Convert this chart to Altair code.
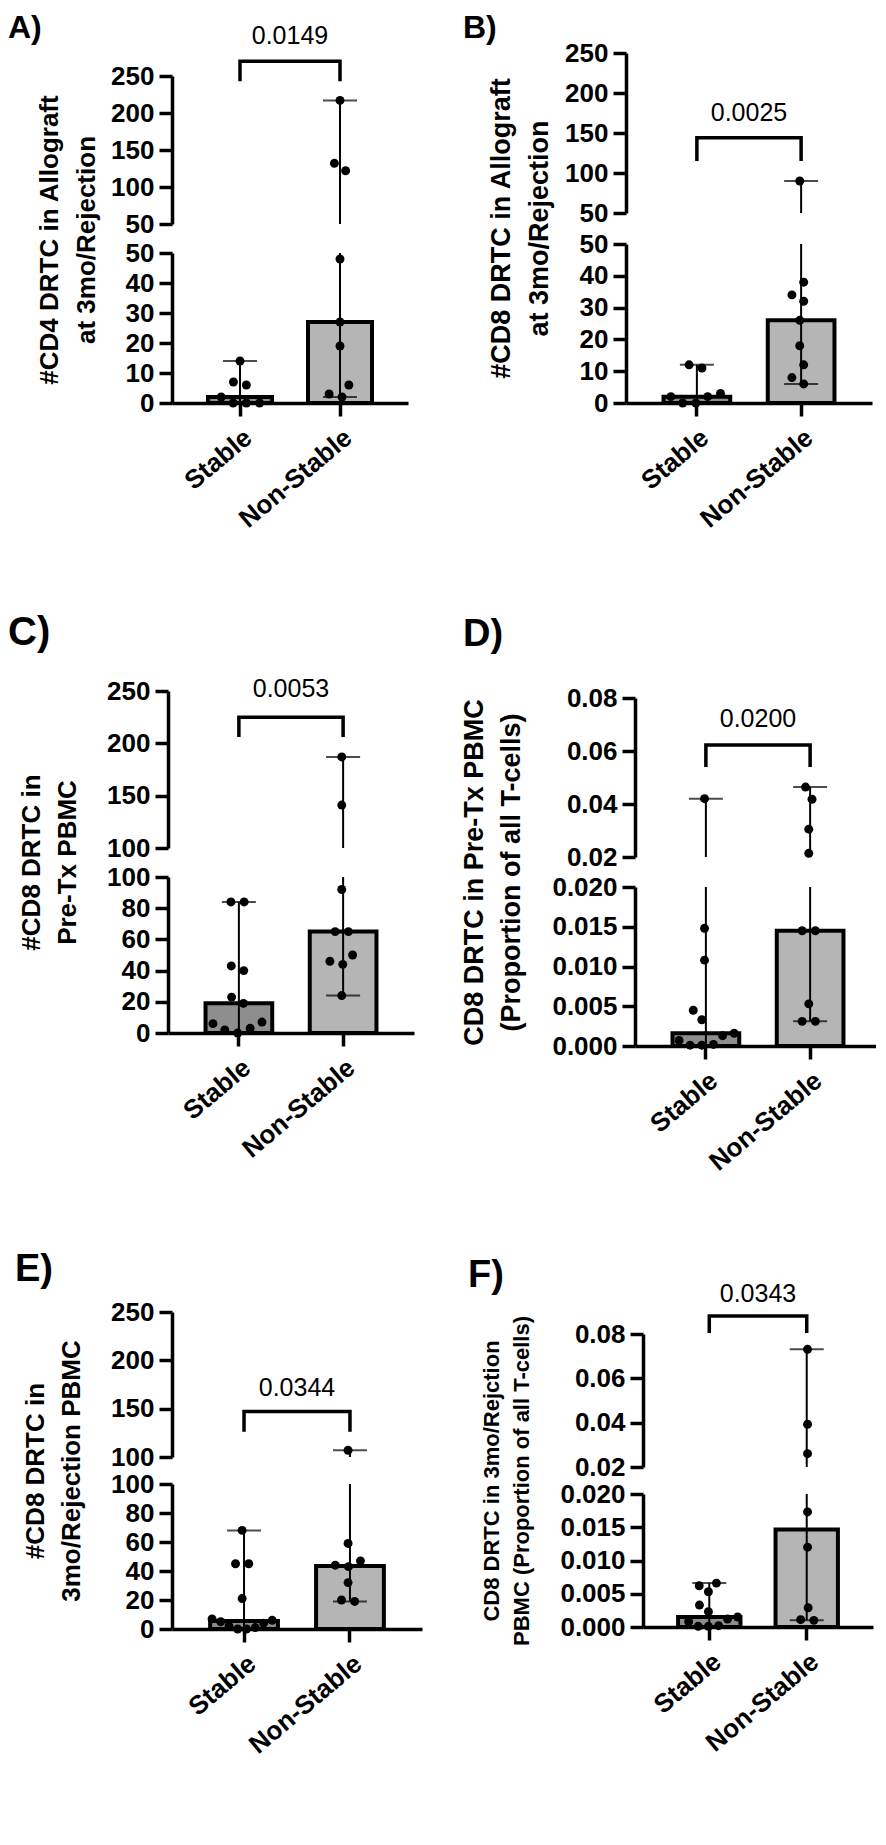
import altair as alt
import pandas as pd

FONT = "Liberation Sans"
groups = ["Stable", "Non-Stable"]

# ---- data ----
a_stable = [14, 7, 6, 2, 0, 0, 0]
a_nonstable = [217, 132, 122, 48, 27, 19, 6, 3, 2]
b_stable = [12, 11, 3, 2, 2, 0, 0]
b_nonstable = [90, 38, 34, 32, 26, 18, 12, 8, 6]
c_stable = [84, 84, 43, 40, 23, 19, 7, 6, 3, 2, 0]
c_nonstable = [187, 141, 92, 65, 65, 50, 46, 44, 24]
d_stable = [0.042, 0.0148, 0.0108, 0.0045, 0.0033, 0.0016, 0.0013, 0.0007, 0.0002, 0.0001, 0.0001]
d_nonstable = [0.0464, 0.0418, 0.0305, 0.0214, 0.0145, 0.0145, 0.0053, 0.0031, 0.0031]
e_stable = [68, 45, 45, 21, 7, 6, 5, 4, 2, 1, 0, 0]
e_nonstable = [107, 59, 47, 44, 43, 32, 20, 19]
f_stable = [0.0066, 0.0062, 0.0053, 0.0033, 0.0023, 0.0015, 0.0012, 0.0008, 0.0002, 0.0001, 0.0001]
f_nonstable = [0.0731, 0.0393, 0.026, 0.0173, 0.012, 0.0029, 0.0011, 0.001]

p_values = ["0.0149", "0.0025", "0.0053", "0.0200", "0.0344", "0.0343"]
panel_letters = ["A)", "B)", "C)", "D)", "E)", "F)"]
y_titles = [
    ["#CD4 DRTC in Allograft", "at 3mo/Rejection"],
    ["#CD8 DRTC in Allograft", "at 3mo/Rejection"],
    ["#CD8 DRTC in", "Pre-Tx PBMC"],
    ["CD8 DRTC in Pre-Tx PBMC", "(Proportion of all T-cells)"],
    ["#CD8 DRTC in", "3mo/Rejection PBMC"],
    ["CD8 DRTC in 3mo/Rejction", "PBMC (Proportion of all T-cells)"],
]
# broken-axis segments: (break value, top value)
seg_limits = [(50, 250), (50, 250), (100, 250), (0.02, 0.08), (100, 250), (0.02, 0.08)]
count50_low = [0, 10, 20, 30, 40, 50]
count50_high = [50, 100, 150, 200, 250]
count100_low = [0, 20, 40, 60, 80, 100]
count100_high = [100, 150, 200, 250]
prop_low = [0, 0.005, 0.01, 0.015, 0.02]
prop_high = [0.02, 0.04, 0.06, 0.08]
tick_sets = [
    (count50_low, count50_high, "d", "d"),
    (count50_low, count50_high, "d", "d"),
    (count100_low, count100_high, "d", "d"),
    (prop_low, prop_high, ".3f", ".2f"),
    (count100_low, count100_high, "d", "d"),
    (prop_low, prop_high, ".3f", ".2f"),
]
# significance bracket levels in upper-segment units: (bar, leg end, text)
bracket_levels = [(270, 243, 304), (144, 115, 175), (225, 206, 252),
                  (0.0623, 0.054, 0.0721), (147, 126, 171), (0.0881, 0.0805, 0.098)]
data_sets = [(a_stable, a_nonstable), (b_stable, b_nonstable), (c_stable, c_nonstable),
             (d_stable, d_nonstable), (e_stable, e_nonstable), (f_stable, f_nonstable)]

# ---- layout (pixels inside each panel) ----
# s = horizontal shift of the axes inside the grid cell
layouts = [
    dict(W=236, H=382, low=232, ub=203, ut=55, s=0, tfs=26, lfs=32, tdx=-164, toff=-24),
    dict(W=246, H=382, low=223, ub=192, ut=32, s=-4, tfs=27, lfs=32, tdx=-167, toff=-24),
    dict(W=246, H=367, low=211, ub=182, ut=25, s=-4, tfs=26, lfs=40, tdx=-164, toff=13),
    dict(W=246, H=380, low=221, ub=191, ut=32, s=5, tfs=27, lfs=38, tdx=-167, toff=12),
    dict(W=250, H=320, low=175, ub=148, ut=3, s=0, tfs=26, lfs=38, tdx=-157, toff=10),
    dict(W=230, H=318, low=185, ub=158, ut=25, s=13, tfs=22, lfs=38, tdx=-162, toff=-13),
]
PI, PO = 0.36, 0.36
BAR_FILLS = ["#8e8e8e", "#b5b5b5"]


def swarm(ys, half, d=14.0):
    n = len(ys)
    xs = [0.0] * n
    order = sorted(range(n), key=lambda k: -ys[k])
    placed = []
    for k in order:
        iv = []
        for j in placed:
            dy = abs(ys[j] - ys[k])
            if dy < d:
                h = (d * d - dy * dy) ** 0.5
                iv.append((xs[j] - h, xs[j] + h))
        cands = [0.0] + [a for a, _ in iv] + [b for _, b in iv]
        cands.sort(key=lambda c: (abs(c), c))
        for c in cands:
            if all(not (a + 1e-6 < c < b - 1e-6) for a, b in iv):
                xs[k] = c
                break
        placed.append(k)
    seen = [False] * n
    for k in range(n):
        if seen[k]:
            continue
        comp, stack = [], [k]
        seen[k] = True
        while stack:
            u = stack.pop()
            comp.append(u)
            for v in range(n):
                if not seen[v] and abs(ys[v] - ys[u]) < d:
                    seen[v] = True
                    stack.append(v)
        m = sum(xs[u] for u in comp) / len(comp)
        for u in comp:
            xs[u] -= m
        widest = max(abs(xs[u]) for u in comp)
        if widest > half:
            for u in comp:
                xs[u] *= half / widest
    return xs


def panel(i):
    stable, non = data_sets[i]
    brk, top = seg_limits[i]
    L = layouts[i]
    W, H, s = L["W"], L["H"], L["s"]
    low_ticks, high_ticks, fmt_low, fmt_high = tick_sets[i]
    step = W / (2 - PI + 2 * PO)
    bw = step * (1 - PI)

    def to_px(v):
        if v <= brk:
            return H - v * (H - L["low"]) / brk
        return L["ub"] - (v - brk) * (L["ub"] - L["ut"]) / (top - brk)

    rows = []
    for g, vals in zip(groups, (stable, non)):
        offs = swarm([to_px(v) for v in vals], bw / 2 - 2)
        for v, o in zip(vals, offs):
            rows.append({"group": g, "value": v, "dx": o})
    pts = pd.DataFrame(rows)
    pts_low = pts[pts["value"] <= brk]
    pts_high = pts[pts["value"] > brk]

    summ = pd.DataFrame([
        {"group": g, "med": float(pd.Series(vals).median()), "mn": min(vals), "mx": max(vals), "base": 0.0}
        for g, vals in zip(groups, (stable, non))
    ])
    rule_low = pd.DataFrame({"group": summ["group"], "lo": summ["mn"], "hi": summ["mx"].clip(upper=brk)})
    hi_rows = summ[summ["mx"] > brk]
    rule_high = pd.DataFrame({"group": hi_rows["group"], "lo": brk, "hi": hi_rows["mx"]})
    caps = pd.concat([
        pd.DataFrame({"group": summ["group"], "v": summ["mn"]}),
        pd.DataFrame({"group": summ["group"], "v": summ["mx"]}),
    ])
    caps_low = caps[caps["v"] <= brk]
    caps_high = caps[caps["v"] > brk]
    br, leg, txt = bracket_levels[i]
    bracket = pd.DataFrame({"group": ["Stable", "Stable", "Non-Stable", "Non-Stable"],
                            "y": [leg, br, br, leg], "o": [0, 1, 2, 3]})
    ptxt = pd.DataFrame({"group": ["Stable"], "y": [txt], "label": [p_values[i]]})

    xscale = alt.Scale(domain=groups, range=[s, s + W], paddingInner=PI, paddingOuter=PO)
    xaxis = alt.Axis(title=None, labelAngle=-40, labelPadding=8)
    X = alt.X("group:N", scale=xscale, axis=xaxis)
    X_end = alt.X("group:N", scale=xscale, axis=xaxis, bandPosition=1)
    xoff = alt.XOffset("dx:Q", scale=alt.Scale(domain=[-bw / 2, bw / 2], range=[0, bw]))

    low_scale = alt.Scale(domain=[0, brk], range=[H, L["low"]], nice=False, zero=False)
    high_scale = alt.Scale(domain=[brk, top], range=[L["ub"], L["ut"]], nice=False, zero=False)
    low_axis = alt.Axis(orient="left", values=low_ticks, format=fmt_low, title=y_titles[i],
                        titleY=(L["ut"] + H) / 2, titleFontSize=L["tfs"],
                        titleLineHeight=L["tfs"] * 1.4, grid=False, offset=-s)
    high_axis = alt.Axis(orient="left", values=high_ticks, format=fmt_high, title=None,
                         grid=False, offset=-s)

    def YL(f):
        return alt.Y(f"{f}:Q", scale=low_scale, axis=low_axis)

    def YH(f):
        return alt.Y(f"{f}:Q", scale=high_scale, axis=high_axis)

    bars = alt.Chart(summ).mark_bar(stroke="black", strokeWidth=4, width=bw).encode(
        x=X, y=YL("med"), y2=alt.Y2("base"),
        fill=alt.Fill("group:N", scale=alt.Scale(domain=groups, range=BAR_FILLS), legend=None))
    rl = alt.Chart(rule_low).mark_rule(color="black", strokeWidth=2).encode(x=X, y=YL("lo"), y2="hi")
    cl = alt.Chart(caps_low).mark_tick(color="black", thickness=2, size=34).encode(x=X, y=YL("v"))
    pl = alt.Chart(pts_low).mark_circle(size=80, color="black", opacity=1).encode(
        x=X, xOffset=xoff, y=YL("value"))

    rh = alt.Chart(rule_high).mark_rule(color="black", strokeWidth=2).encode(x=X, y=YH("lo"), y2="hi")
    ch = alt.Chart(caps_high).mark_tick(color="black", thickness=2, size=34).encode(x=X, y=YH("v"))
    ph = alt.Chart(pts_high).mark_circle(size=80, color="black", opacity=1).encode(
        x=X, xOffset=xoff, y=YH("value"))
    bk = alt.Chart(bracket).mark_line(color="black", strokeWidth=3.5).encode(
        x=X, y=YH("y"), order="o:Q")
    # text centred between the two categories: end of first band + half the inner padding
    tx = alt.Chart(ptxt).mark_text(font=FONT, fontSize=25, color="black", dx=step * PI / 2).encode(
        x=X_end, y=YH("y"), text="label:N")

    low_group = alt.layer(bars, rl, cl, pl)
    high_group = alt.layer(rh, ch, ph, bk, tx)
    return alt.layer(low_group, high_group).resolve_scale(y="independent").properties(
        width=W, height=H,
        title=alt.TitleParams(text=panel_letters[i], anchor="start", frame="group", orient="top",
                              fontSize=L["lfs"], fontWeight="bold", font=FONT, color="black",
                              dx=L["tdx"], offset=L["toff"]))


panels = [panel(i) for i in range(6)]

chart = alt.concat(
    *panels, columns=2, spacing=alt.RowColnumber(row=263, column=208), bounds="flush"
).properties(padding={"top": 4, "left": 0, "right": 0, "bottom": 0}).configure_view(
    strokeWidth=0
).configure_axis(
    domainColor="black", domainWidth=3.5, tickColor="black", tickWidth=3.5, tickSize=13,
    labelFont=FONT, labelFontSize=26, labelFontWeight="bold", labelColor="black", labelPadding=5,
    titleFont=FONT, titleFontWeight="bold", titleColor="black", titlePadding=26, grid=False)

chart.save("out.html", embed_options={"renderer": "svg", "actions": False})
